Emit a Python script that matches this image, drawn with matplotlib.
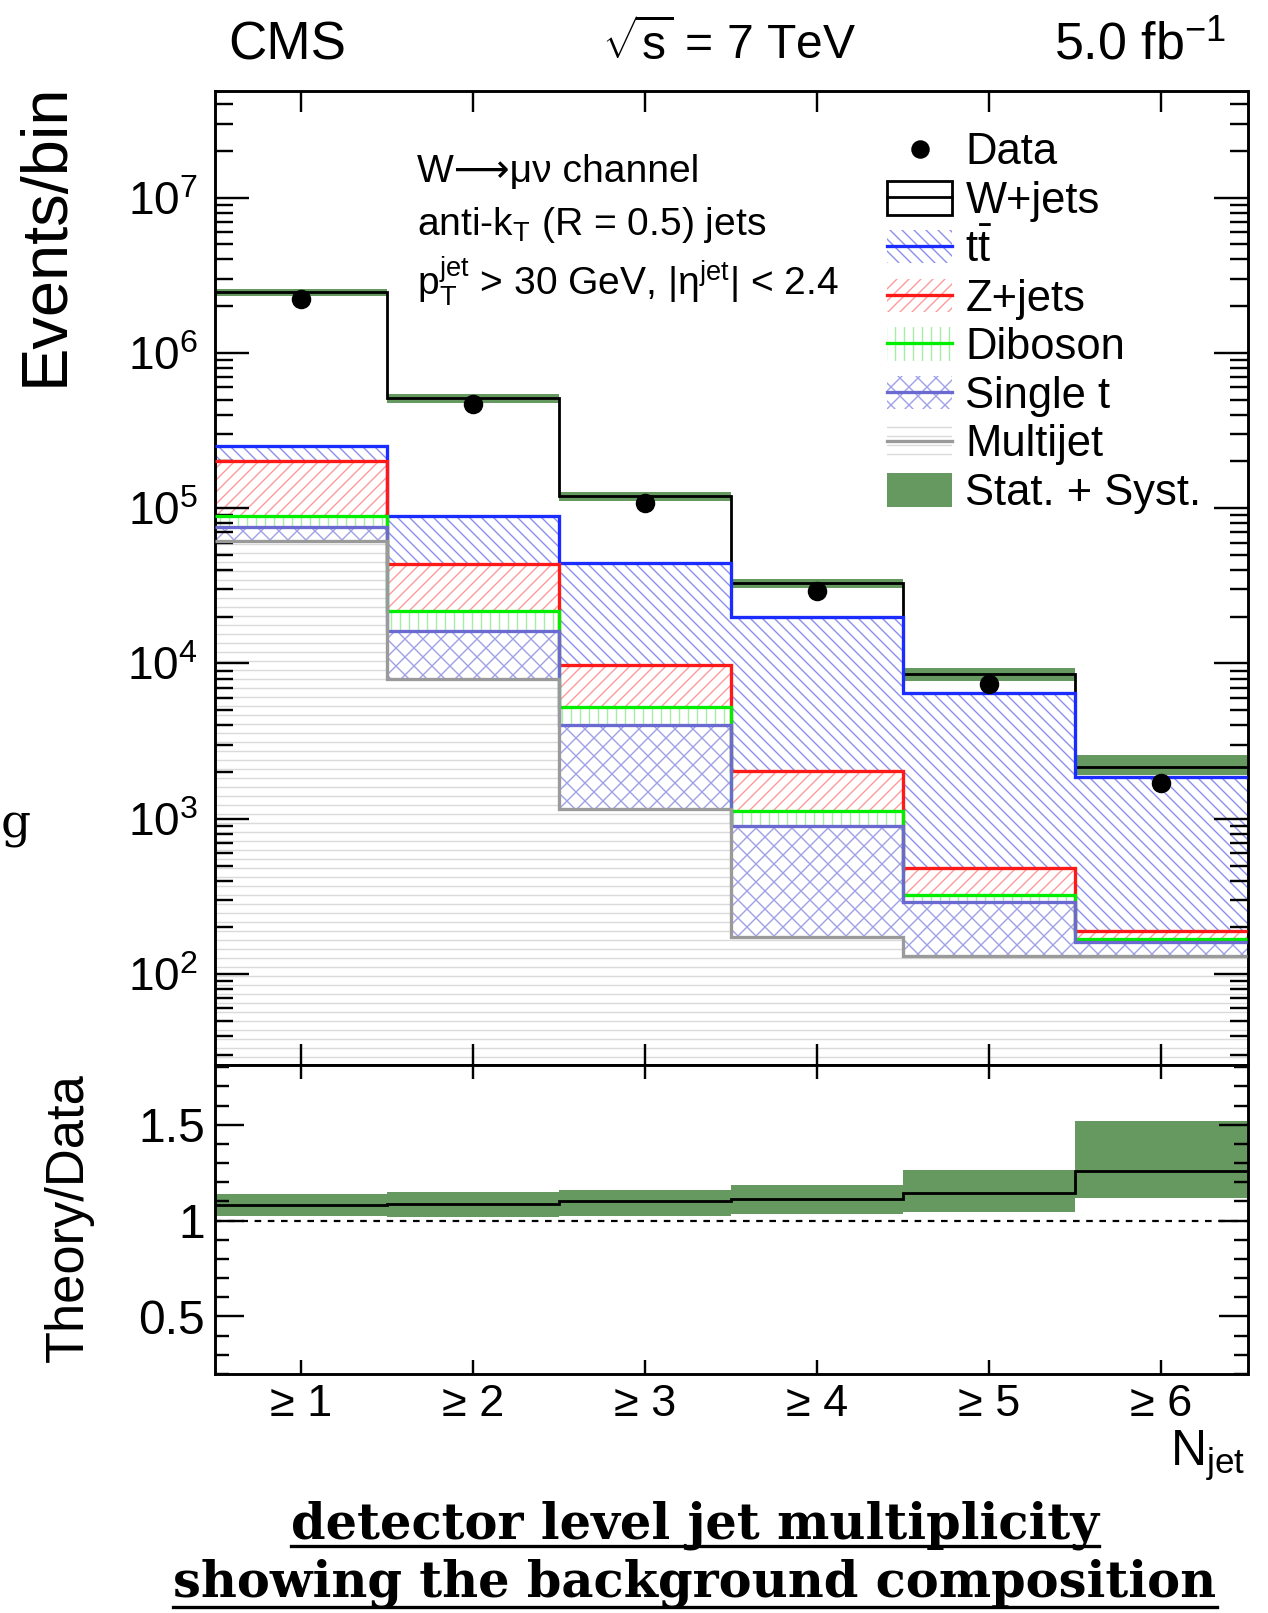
import numpy as np
import matplotlib
matplotlib.use("Agg")
import matplotlib.pyplot as plt
from matplotlib.patches import Patch
from matplotlib.lines import Line2D
from matplotlib.ticker import LogLocator, NullLocator, FixedLocator, FixedFormatter, NullFormatter


# values
njet_labels = ["≥ 1", "≥ 2", "≥ 3", "≥ 4", "≥ 5", "≥ 6"]
data_counts = [2.24e6, 4.67e5, 1.08e5, 2.93e4, 7.43e3, 1.71e3]

multijet = [61200, 8000, 1160, 172, 130, 130]
single_t = [14000, 8100, 2830, 728, 162, 30]
diboson = [13500, 5700, 1270, 220, 32, 8]
zjets = [112300, 22000, 4500, 920, 161, 21]
ttbar = [51000, 45500, 34540, 17760, 5985, 1671]
wjets = [2208000, 422700, 75700, 13200, 2030, 280]

ratio = [1.082, 1.088, 1.100, 1.113, 1.146, 1.258]
ratio_lo = [1.022, 1.017, 1.026, 1.033, 1.046, 1.119]
ratio_hi = [1.139, 1.148, 1.160, 1.187, 1.263, 1.522]


W, H, DPI = 1268, 1613, 108


def P(px):
    # pixel size -> points at the figure dpi
    return px * 72.0 / DPI


def fx(px):
    return px / W


def fy(py):
    return 1 - py / H


plt.rcParams["font.family"] = ["Liberation Sans", "DejaVu Sans"]
plt.rcParams["mathtext.fontset"] = "custom"
plt.rcParams["mathtext.rm"] = "Liberation Sans"
plt.rcParams["mathtext.it"] = "Liberation Sans:italic"
plt.rcParams["mathtext.bf"] = "Liberation Sans:bold"
plt.rcParams["hatch.linewidth"] = P(1.4)

fig = plt.figure(figsize=(W / DPI, H / DPI), dpi=DPI)

ax = fig.add_axes([fx(215), fy(1065.4), fx(1247.5 - 215), (1065.4 - 90.5) / H])
rax = fig.add_axes([fx(215), fy(1374), fx(1247.5 - 215), (1374 - 1065.4) / H], sharex=ax)

n = len(data_counts)
centers = np.arange(1, n + 1)
edges = np.arange(0.5, n + 1.0, 1.0)

band_col = "#65995f"

# stack from the bottom up
comps = [
    ("Multijet", multijet, "#9a9a9a", "#dadada", "--"),
    ("Single t", single_t, "#6a6ad0", "#a0a0e6", "xx"),
    ("Diboson", diboson, "#00ee00", "#a6eea6", "||"),
    ("Z+jets", zjets, "#ff1a1a", "#ff9a9a", "///"),
    (r"t$\bar{\mathrm{t}}$", ttbar, "#1a2cff", "#8a8ff0", "\\\\\\"),
]

lower = np.ones(n)
cum = np.zeros(n)
for i, (name, vals, lc, hc, h) in enumerate(comps):
    cum = cum + np.array(vals, dtype=float)
    ax.bar(centers, cum - lower, bottom=lower, width=1.0, facecolor="none",
           edgecolor=hc, hatch=h, linewidth=0, zorder=1)
    ax.stairs(cum, edges, baseline=None, color=lc, linewidth=P(3.3), zorder=3.6 - 0.1 * i)
    lower = cum.copy()

total = cum + np.array(wjets, dtype=float)
r = np.array(ratio)
band_lo = total * np.array(ratio_lo) / r
band_hi = total * np.array(ratio_hi) / r
ax.bar(centers, band_hi - band_lo, bottom=band_lo, width=1.0, color=band_col,
       linewidth=0, zorder=2.5)
ax.stairs(total, edges, baseline=None, color="black", linewidth=P(2.8), zorder=3)

ax.plot(centers, data_counts, "o", color="black", markersize=P(18), zorder=6)

ax.set_yscale("log")
ax.set_ylim(25.8, 4.9e7)
ax.set_xlim(0.5, n + 0.5)
ax.yaxis.set_major_locator(LogLocator(base=10, numticks=20))
ax.yaxis.set_minor_locator(LogLocator(base=10, subs=np.arange(2, 10), numticks=20))
ax.yaxis.set_minor_formatter(NullFormatter())
ax.xaxis.set_major_locator(FixedLocator(centers))
ax.xaxis.set_minor_locator(NullLocator())

ax.tick_params(which="both", direction="in", top=True, right=True, labelbottom=False)
ax.tick_params(axis="y", which="major", length=P(34), width=P(2.4), labelsize=P(46), pad=P(17))
ax.tick_params(axis="y", which="minor", length=P(18), width=P(2.4))
ax.tick_params(axis="x", which="major", length=P(21), width=P(2.4))
for s in ax.spines.values():
    s.set_linewidth(P(2.9))

# ratio panel
rax.bar(centers, np.array(ratio_hi) - np.array(ratio_lo), bottom=ratio_lo, width=1.0,
        color=band_col, linewidth=0, zorder=1)
rax.stairs(ratio, edges, baseline=None, color="black", linewidth=P(2.8), zorder=3)
rax.axhline(1.0, color="black", linewidth=P(2.2), linestyle=(0, (3, 3)), zorder=2)
rax.set_ylim(0.2, 1.81)
major_r = [0.5, 1.0, 1.5]
minor_r = [round(v, 1) for v in np.arange(0.2, 1.85, 0.1)]
minor_r = [v for v in minor_r if v not in major_r]
rax.yaxis.set_major_locator(FixedLocator(major_r))
rax.yaxis.set_major_formatter(FixedFormatter(["0.5", "1", "1.5"]))
rax.yaxis.set_minor_locator(FixedLocator(minor_r))
rax.yaxis.set_minor_formatter(NullFormatter())
rax.xaxis.set_major_locator(FixedLocator(centers))
rax.xaxis.set_major_formatter(FixedFormatter(njet_labels))
rax.xaxis.set_minor_locator(NullLocator())
rax.tick_params(which="both", direction="in", top=True, right=True)
rax.tick_params(axis="y", which="major", length=P(29), width=P(2.4), labelsize=P(48), pad=P(10))
rax.tick_params(axis="y", which="minor", length=P(14), width=P(2.4))
rax.tick_params(axis="x", which="major", length=P(14), width=P(2.4), labelsize=P(45), pad=P(10))
for s in rax.spines.values():
    s.set_linewidth(P(2.9))

# legend
handles = [
    Line2D([], [], marker="o", color="black", linestyle="none", markersize=P(17)),
    (Patch(facecolor="white", edgecolor="black", linewidth=P(2.8)),
     Line2D([], [], color="black", linewidth=P(2.8))),
]
labels = ["Data", "W+jets"]
for name, vals, lc, hc, h in comps[::-1]:
    handles.append((Patch(facecolor="none", edgecolor=hc, hatch=h, linewidth=0),
                    Line2D([], [], color=lc, linewidth=P(3.3))))
    labels.append(name)
handles.append(Patch(facecolor=band_col, edgecolor="none"))
labels.append("Stat. + Syst.")

ax.legend(handles, labels, loc="upper left", bbox_to_anchor=(0.651, 0.957),
          frameon=False, fontsize=P(43.5), handlelength=1.5, handleheight=0.8,
          handletextpad=0.3, labelspacing=0.175, borderpad=0, borderaxespad=0)

# in-plot annotation
ann = P(39)
fig.text(fx(416.7), fy(181.7), "W⟶μν channel", fontsize=ann, va="baseline", ha="left")
fig.text(fx(416.7), fy(235), r"anti-k$_{\mathrm{T}}$ (R = 0.5) jets", fontsize=ann,
         va="baseline", ha="left")
fig.text(fx(416.7), fy(295), r"p$_{\mathrm{T}}^{\mathrm{jet}}$ > 30 GeV, |η$^{\mathrm{jet}}$| < 2.4",
         fontsize=ann, va="baseline", ha="left")

# header
fig.text(fx(228), fy(59.6), "CMS", fontsize=P(53), ha="left", va="baseline")
fig.text(fx(729), fy(59.6), r"$\sqrt{\mathrm{s}}$ = 7 TeV", fontsize=P(48), ha="center", va="baseline")
fig.text(fx(1226), fy(59.6), r"5.0 fb$^{\mathrm{-1}}$", fontsize=P(52), ha="right", va="baseline")

# axis titles
fig.text(fx(46), fy(234), "Events/bin", rotation=90, fontsize=P(65), ha="center", va="center")
fig.text(fx(69), fy(1218), "Theory/Data", rotation=90, fontsize=P(52.5), ha="center", va="center")
fig.text(fx(1245), fy(1466), r"N$_{\mathrm{jet}}$", fontsize=P(50), ha="right", va="baseline")

# stray glyph at the left edge
fig.text(fx(1), fy(838), "g", fontsize=P(47), family="DejaVu Serif", ha="left", va="baseline")

# caption with underline
cap_size = P(49.5)
cap1 = fig.text(fx(695), fy(1538), "detector level jet multiplicity", fontsize=cap_size,
                family="DejaVu Serif", weight="bold", ha="center", va="baseline")
cap2 = fig.text(fx(695), fy(1597), "showing the background composition", fontsize=cap_size,
                family="DejaVu Serif", weight="bold", ha="center", va="baseline")
fig.canvas.draw()
renderer = fig.canvas.get_renderer()
for t, uy in [(cap1, 1546), (cap2, 1607)]:
    bb = t.get_window_extent(renderer)
    fig.add_artist(Line2D([bb.x0 / W, bb.x1 / W], [fy(uy), fy(uy)],
                          transform=fig.transFigure, color="black", linewidth=P(3.3)))

fig.savefig("out.png", dpi=DPI)
